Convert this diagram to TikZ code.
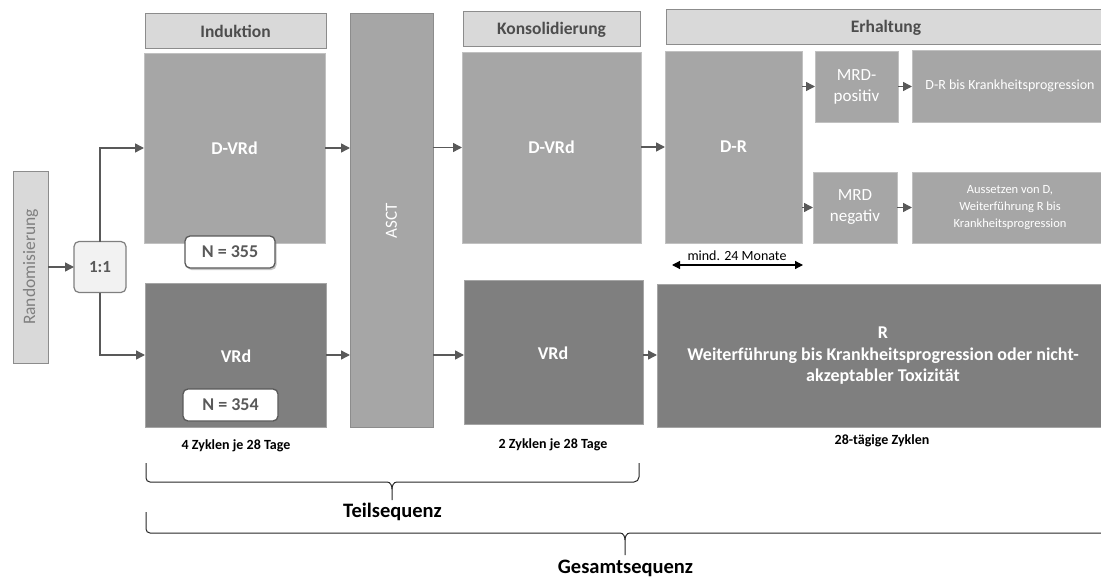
\documentclass[tikz,border=0pt]{standalone}
\usepackage{fontspec}
\setmainfont{Carlito}
\usetikzlibrary{arrows.meta,shadows}
\definecolor{hdrfill}{HTML}{D9D9D9}
\definecolor{hdrdraw}{HTML}{8C8C8C}
\definecolor{midgray}{HTML}{A6A6A6}
\definecolor{darkgray}{HTML}{7F7F7F}
\definecolor{arrowgray}{HTML}{595959}
\definecolor{hdrtext}{HTML}{4D4D4D}
\definecolor{lightbox}{HTML}{F2F2F2}
\tikzset{
  hdr/.style={draw=hdrdraw, line width=1pt, fill=hdrfill, inner sep=0pt, outer sep=0pt,
    text=hdrtext, font=\fontsize{17.5}{20}\selectfont\bfseries},
  midbox/.style={fill=midgray, draw=midgray!70!white, line width=0.6pt, inner sep=0pt, outer sep=0pt,
    text=white, align=center},
  darkbox/.style={fill=darkgray, draw=darkgray!70!white, line width=0.6pt, inner sep=0pt, outer sep=0pt,
    text=white, align=center},
  nbox/.style={fill=white, draw=arrowgray, line width=1.3pt, rounded corners=5pt, inner sep=0pt,
    text=arrowgray, font=\fontsize{18}{20}\selectfont\bfseries,
    drop shadow={opacity=0.45, shadow xshift=1.5pt, shadow yshift=-2pt}},
  flow/.style={draw=arrowgray, line width=1.4pt, -{Triangle[length=9pt,width=9pt]}},
  bfbig/.style={font=\fontsize{18}{21}\selectfont\bfseries},
  caption/.style={font=\fontsize{14}{16}\selectfont\bfseries, text=black},
  brace/.style={draw=black!85, line width=1pt},
}
\begin{document}
\begin{tikzpicture}[x=1pt,y=-1pt]
\useasboundingbox (0,0) rectangle (1101,578);

% headers
\node[hdr, minimum width=181, minimum height=35] (hInd) at (235.5,31.5) {Induktion};
\node[hdr, minimum width=177, minimum height=35] (hKons) at (551.5,29.5) {Konsolidierung};
\node[hdr, minimum width=450, minimum height=35] (hErh) at (891,27.5) {};
\node[text=hdrtext, font=\fontsize{17.5}{20}\selectfont\bfseries] (tErh) at (886,27.5) {Erhaltung};

% randomisation
\node[fill=hdrfill, draw=hdrdraw, line width=1pt, minimum width=35, minimum height=192, inner sep=0pt, outer sep=0pt] (rand) at (30.5,267) {};
\node[rotate=90, text=darkgray, font=\fontsize{17.5}{20}\selectfont] (randt) at (rand.center) {Randomisierung};
\node[fill=lightbox, draw=darkgray, line width=1.2pt, rounded corners=5pt, minimum width=52, minimum height=51, inner sep=0pt, outer sep=0pt, text=arrowgray, font=\fontsize{17}{20}\selectfont\bfseries] (ratio) at (100,267) {1:1};

% induction
\node[midbox, minimum width=181, minimum height=190, bfbig] (ind1) at (234.5,148) {D-VRd};
\node[darkbox, minimum width=181, minimum height=144, bfbig] (ind2) at (235.5,355) {};
\node[text=white, bfbig] (ind2t) at (236,356) {VRd};
\node[nbox, minimum width=90, minimum height=32] (n355) at (230,252) {N = 355};
\node[nbox, minimum width=95, minimum height=32] (n354) at (230.5,405) {N = 354};

% ASCT
\node[fill=midgray, draw=hdrdraw, line width=1pt, minimum width=83, minimum height=413, inner sep=0pt, outer sep=0pt] (asct) at (391.5,220.5) {};
\node[rotate=90, text=white, font=\fontsize{17}{20}\selectfont] (asctt) at (391.5,220.5) {ASCT};

% consolidation
\node[midbox, minimum width=179, minimum height=191, bfbig] (kons1) at (551.5,147.5) {D-VRd};
\node[darkbox, minimum width=179, minimum height=144] (kons2) at (553.5,352) {};
\node[text=white, bfbig] (kons2t) at (553,353) {VRd};

% maintenance
\node[midbox, minimum width=137, minimum height=192, bfbig] (dr) at (733.5,147) {D-R};
\node[midbox, minimum width=83, minimum height=71, font=\fontsize{17}{21}\selectfont] (mrdp) at (856.5,86.5) {MRD-\\positiv};
\node[midbox, minimum width=84, minimum height=71, font=\fontsize{17}{21}\selectfont] (mrdn) at (855,207.5) {MRD\\negativ};
\node[midbox, minimum width=196, minimum height=72, font=\fontsize{14}{17}\selectfont] (drbis) at (1010,86) {D-R bis Krankheitsprogression};
\node[midbox, minimum width=196, minimum height=71, font=\fontsize{12.5}{17}\selectfont] (auss) at (1010,207.5) {Aussetzen von D,\\Weiterführung R bis\\Krankheitsprogression};
\node[darkbox, minimum width=452, minimum height=143] (rbox) at (883,355.5) {};
\node[text=white, align=center, font=\fontsize{18}{21.5}\selectfont\bfseries] (rboxt) at (883,356) {R\\Weiterführung bis Krankheitsprogression oder nicht-\\akzeptabler Toxizität};

% connectors
\draw[flow] (rand.east |- ratio.west) -- (ratio.west);
\draw[flow] (ratio.north) |- (ind1.west);
\draw[flow] (ratio.south) |- (ind2.west);
\draw[flow] (ind1.east) -- (ind1.east -| asct.west);
\draw[flow] (ind2.east) -- (ind2.east -| asct.west);
\draw[flow] (asct.east |- kons1.west) -- (kons1.west);
\draw[flow] (asct.east |- ind2.east) -- (kons2.west |- ind2.east);
\draw[flow] (kons1.east |- dr.west) -- (dr.west);
\draw[flow] (kons2.east |- ind2.east) -- (rbox.west |- ind2.east);
\draw[flow] (dr.east |- mrdp.west) -- (mrdp.west);
\draw[flow] (dr.east |- mrdn.west) -- (mrdn.west);
\draw[flow] (mrdp.east) -- (drbis.west |- mrdp.east);
\draw[flow] (mrdn.east) -- (auss.west |- mrdn.east);

% duration arrow
\coordinate (ma) at (672,265);
\coordinate (mb) at (803,265);
\draw[black, line width=1.2pt, {Triangle[length=8pt,width=8pt]}-{Triangle[length=8pt,width=8pt]}] (ma) -- (mb);
\node[font=\fontsize{14}{16}\selectfont, text=black] (mind) at (737,256) {mind. 24 Monate};

% captions
\node[caption] (c1) at (236,446) {4 Zyklen je 28 Tage};
\node[caption] (c2) at (553,445) {2 Zyklen je 28 Tage};
\node[caption] (c3) at (882,441) {28-tägige Zyklen};

% braces
\draw[brace] (146,463) -- (146,478) to[out=-90,in=180] (150,482) -- (387,482) to[out=0,in=90] (392,489) -- (392,500);
\draw[brace] (392,489) to[out=90,in=180] (397,482) -- (634,482) to[out=0,in=-90] (639,477) -- (639,463);
\node[font=\fontsize{20.5}{23}\selectfont\bfseries, text=black] (teil) at (392.5,512) {Teilsequenz};

\draw[brace] (146,512) -- (146,529) to[out=-90,in=180] (150,533) -- (620,533) to[out=0,in=90] (625,540) -- (625,555);
\draw[brace] (625,540) to[out=90,in=180] (630,533) -- (1110,533);
\node[font=\fontsize{20.5}{23}\selectfont\bfseries, text=black] (ges) at (625.5,568) {Gesamtsequenz};
\end{tikzpicture}
\end{document}
